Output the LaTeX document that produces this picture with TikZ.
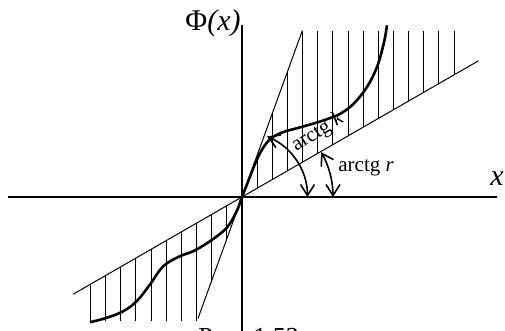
\documentclass[tikz,border=0pt]{standalone}
\usepackage{fontspec}
\setmainfont{Liberation Serif}
\usetikzlibrary{arrows.meta}

\begin{document}
\begin{tikzpicture}[x=0.5pt,y=0.5pt,
  >={Straight Barb[length=5.5pt,width=7pt]},
  axis/.style={line width=1.4pt},
  hatch/.style={line width=0.5pt},
  graph/.style={line width=1.3pt},
  angle/.style={line width=0.8pt,<->},
  lab/.style={anchor=base west,inner sep=0pt}]
  \useasboundingbox (-242,-134) rectangle (263,197);

  % axes
  \draw[axis] (-234,0) -- (255,0);
  \draw[axis] (0,-140) -- (0,172);
  \node[lab,font=\fontsize{15}{18}\selectfont] (xlab) at (248,11) {\textit{x}};
  \node[lab,font=\fontsize{15}{18}\selectfont] (philab) at (-57,166) {Φ\textit{(x)}};

  % bounding lines
  \draw[hatch] (-44,-121.4) -- (60.3,166.3);
  \draw[hatch] (-169,-97.3) -- (236.3,136.1);

  % hatching
  \foreach \k in {1,...,14}
    \draw[hatch] ({15.15*\k},{0.576*15.15*\k}) -- ({15.15*\k},{min(166.3,2.76*15.15*\k)});
  \foreach \k in {1,...,10}
    \draw[hatch] ({-15.15*\k},{-0.576*15.15*\k}) -- ({-15.15*\k},{max(-124,-2.76*15.15*\k)});

  % graph
  \draw[graph] plot[smooth,tension=0.6] coordinates {
    (-152,-125.2) (-135.3,-120.8) (-118.7,-114.2) (-105.3,-104.2) (-92,-87.5)
    (-78.7,-69.2) (-62,-59.2) (-48.7,-54.2) (-32,-44.2) (-15.3,-30.8) (-5.3,-14.2)
    (0,0) (6.7,17) (14,35.5) (21,49) (29,58.5) (40,64.5) (55,68.8) (70,73)
    (85,77.8) (98.3,83.3) (111.7,93.3) (125,110) (135,130) (141.7,153.3) (145,171.7)};

  % angles
  \draw[angle] (65.5,0) arc[start angle=0,end angle=67.5,radius=65.5];
  \draw[angle] (91,0) arc[start angle=0,end angle=29.5,radius=91];
  \node[lab,rotate=32,font=\fontsize{10.5}{12}\selectfont] (klab) at (54,45) {arctg \textit{k}};
  \node[lab,font=\fontsize{10.5}{12}\selectfont] (rlab) at (96,25) {arctg \textit{r}};

  % caption
  \node[lab,font=\fontsize{13}{15}\selectfont] (cap) at (-44,-149) {Рис. 1.53};
\end{tikzpicture}
\end{document}
